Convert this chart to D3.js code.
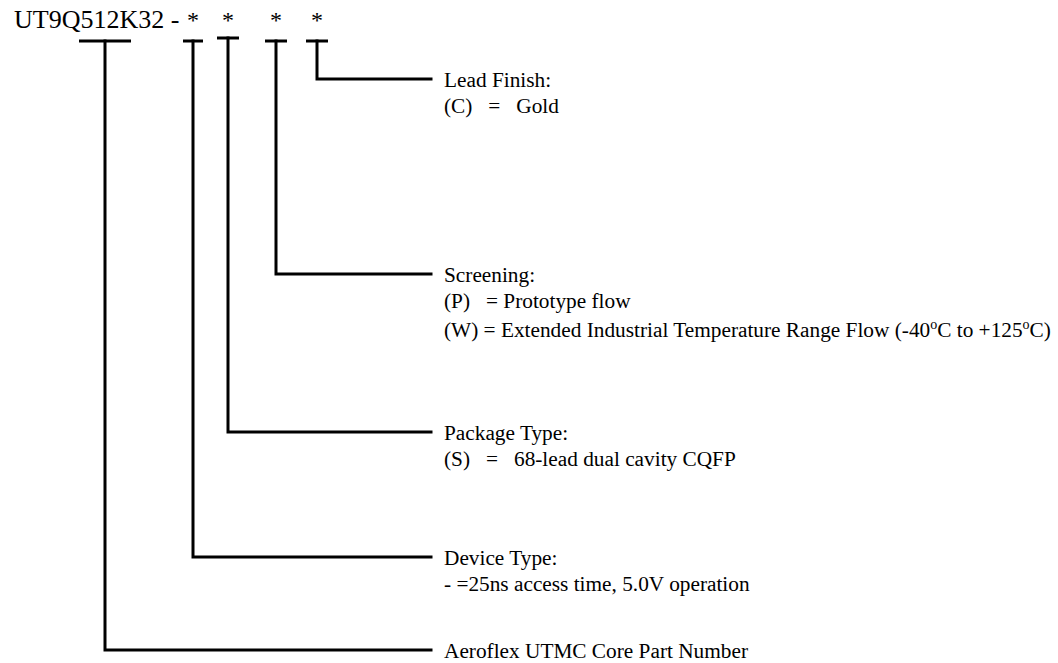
<!DOCTYPE html>
<html>
<head>
<meta charset="utf-8">
<script src="https://cdn.jsdelivr.net/npm/d3@7"></script>
<style>
  html, body { margin: 0; padding: 0; background: #fff; }
  svg { display: block; }
  text { font-family: "Liberation Serif", "Times New Roman", serif; fill: #000; white-space: pre; }
</style>
</head>
<body>
<svg id="chart" width="1058" height="663"></svg>
<script>
// ---- data ----
const partNumber = "UT9Q512K32";
const fieldNames = ["Core", "Device Type", "Package Type", "Screening", "Lead Finish"];
const fieldHeadings = [
  "Aeroflex UTMC Core Part Number",
  "Device Type:",
  "Package Type:",
  "Screening:",
  "Lead Finish:"
];
const fieldOptions = [
  [],
  [["- =25ns access time, 5.0V operation"]],
  [["(S)   =   68-lead dual cavity CQFP"]],
  [["(P)   = Prototype flow"],
   ["(W) = Extended Industrial Temperature Range Flow (-40", "o", "C to +125", "o", "C)"]],
  [["(C)   =   Gold"]]
];
// field slot in the code (0 = core, 1..4 = the four "*" characters)
const fieldSlot = [0, 1, 2, 3, 4];
// drop level of each leader (in layout rows from top)
const fieldLevel = [650, 557, 432, 274, 79];

// ---- layout ----
const svg = d3.select("#chart");
const slotX = d3.scaleOrdinal().domain([0, 1, 2, 3, 4]).range([105, 193, 228, 276, 317]);
const slotHalf = d3.scaleOrdinal().domain([0, 1, 2, 3, 4]).range([26, 10, 11, 11, 11]);
const slotBarY = d3.scaleOrdinal().domain([0, 1, 2, 3, 4]).range([41, 41, 38, 41, 41]);
const y = d3.scaleLinear().domain([0, 663]).range([0, 663]);
const lineEnd = 431;
const textX = 444;
const labelSize = 21.3;
const lineGap = 26;

// title
svg.append("text").attr("x", 14).attr("y", 28)
  .style("font-size", "26px").text(partNumber + " -");
svg.selectAll("text.star").data([1, 2, 3, 4]).join("text")
  .attr("class", "star")
  .attr("x", d => slotX(d)).attr("y", 28)
  .attr("text-anchor", "middle")
  .style("font-size", "24px").text("*");

// bars, stems, leaders
const g = svg.append("g").attr("stroke", "#000").attr("stroke-width", 3).attr("fill", "none");
fieldNames.forEach((name, i) => {
  const s = fieldSlot[i];
  const cx = slotX(s);
  const by = slotBarY(s);
  const ly = y(fieldLevel[i]);
  g.append("line").attr("x1", cx - slotHalf(s)).attr("x2", cx + slotHalf(s))
    .attr("y1", by).attr("y2", by);
  g.append("path").attr("d", `M${cx},${by} V${ly} H${lineEnd}`)
    .attr("stroke-linejoin", "miter").attr("stroke-linecap", "square");
});

// labels
fieldNames.forEach((name, i) => {
  const ly = y(fieldLevel[i]);
  const base = ly + 8;
  svg.append("text").attr("x", textX).attr("y", base)
    .style("font-size", labelSize + "px").text(fieldHeadings[i]);
  fieldOptions[i].forEach((parts, j) => {
    const extra = (i === 3 && j === 1) ? 3 : 0;
    const t = svg.append("text").attr("x", textX).attr("y", base + lineGap * (j + 1) + extra)
      .style("font-size", labelSize + "px");
    parts.forEach((p, k) => {
      if (k % 2 === 1) {
        t.append("tspan").attr("dy", -8).style("font-size", "14px").text(p);
      } else {
        t.append("tspan").attr("dy", k === 0 ? 0 : 8).text(p);
      }
    });
  });
});
</script>
</body>
</html>
